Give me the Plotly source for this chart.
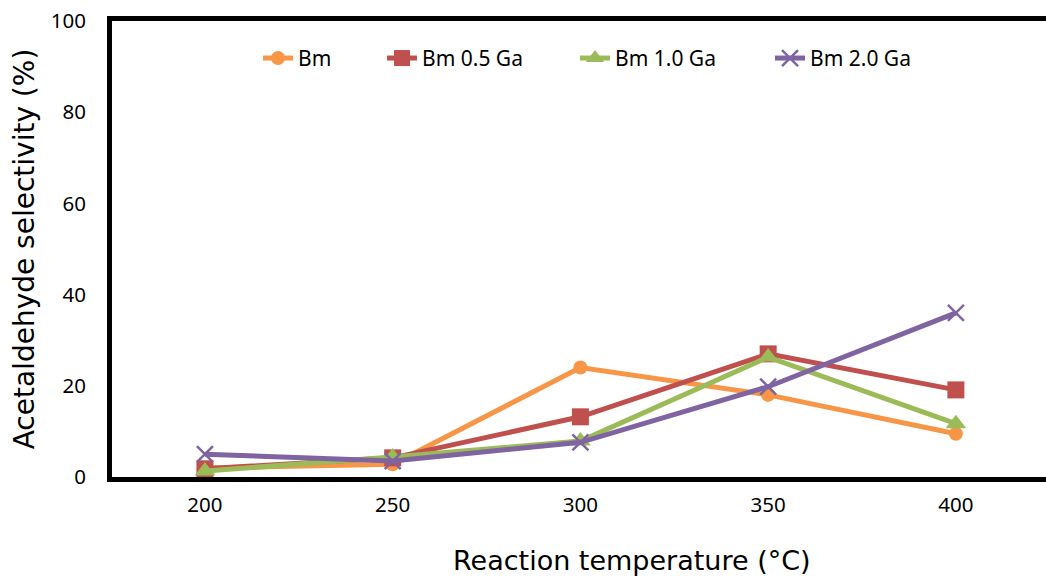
import plotly.graph_objects as go

temperatures = ["200", "250", "300", "350", "400"]
bm = [2.0, 2.8, 24.0, 18.0, 9.5]
bm_05ga = [1.8, 4.2, 13.2, 27.0, 19.1]
bm_10ga = [1.3, 4.4, 7.9, 26.3, 11.7]
bm_20ga = [5.0, 3.5, 7.6, 19.8, 36.0]
y_ticks = [0, 20, 40, 60, 80, 100]

series = [
    ("Bm", bm, "#F79646", dict(symbol="circle", size=14), "legend"),
    ("Bm 0.5 Ga", bm_05ga, "#C0504D", dict(symbol="square", size=17), "legend2"),
    ("Bm 1.0 Ga", bm_10ga, "#9BBB59", dict(symbol="triangle-up", size=18), "legend3"),
    ("Bm 2.0 Ga", bm_20ga, "#8064A2", dict(symbol="x-thin-open", size=16, line=dict(width=2.5)), "legend4"),
]

xpos = list(range(len(temperatures)))
fig = go.Figure()
for name, vals, color, mk, lg in series:
    m = dict(mk)
    m["color"] = color
    if "line" in m:
        m["line"]["color"] = color
    fig.add_trace(go.Scatter(
        x=xpos, y=vals, name=name, mode="lines+markers",
        line=dict(color=color, width=5), marker=m, legend=lg,
    ))

L, PW = 112, 934
text_starts = [298, 422, 615, 810]
legend_common = dict(orientation="h", xanchor="left", y=0.918, yanchor="middle",
                     font=dict(size=21), bgcolor="rgba(0,0,0,0)", itemwidth=30)
legends = {}
for i, ts in enumerate(text_starts):
    key = "legend" if i == 0 else f"legend{i+1}"
    legends[key] = dict(legend_common, x=(ts - 40 - L) / PW)

fig.update_layout(
    width=1046, height=577,
    margin=dict(l=L, r=0, t=21, b=100),
    plot_bgcolor="white", paper_bgcolor="white",
    font=dict(family="Noto Sans, Open Sans, sans-serif", size=21, color="black"),
    showlegend=True,
    **legends,
    xaxis=dict(
        tickmode="array", tickvals=xpos, ticktext=temperatures,
        range=[-0.495, 4.48], showgrid=False, zeroline=False,
        showline=True, linecolor="black", linewidth=5, mirror=True, ticks="",
        ticklabelstandoff=5, tickfont=dict(size=20.5),
    ),
    yaxis=dict(
        range=[0, 100], tickvals=y_ticks, showgrid=False, zeroline=False,
        showline=True, linecolor="black", linewidth=5, ticks="",
        ticklabelstandoff=17, tickfont=dict(size=20.5),
        title=dict(text="Acetaldehyde selectivity (%)", font=dict(family="DejaVu Sans", size=28), standoff=9),
    ),
    annotations=[dict(
        text="Reaction temperature (°C)", xref="paper", yref="paper",
        x=(632 - L) / PW, y=(477 - 560) / 456, xanchor="center", yanchor="middle",
        showarrow=False, font=dict(family="DejaVu Sans", size=27),
    )],
)

fig.write_html("out.html")
